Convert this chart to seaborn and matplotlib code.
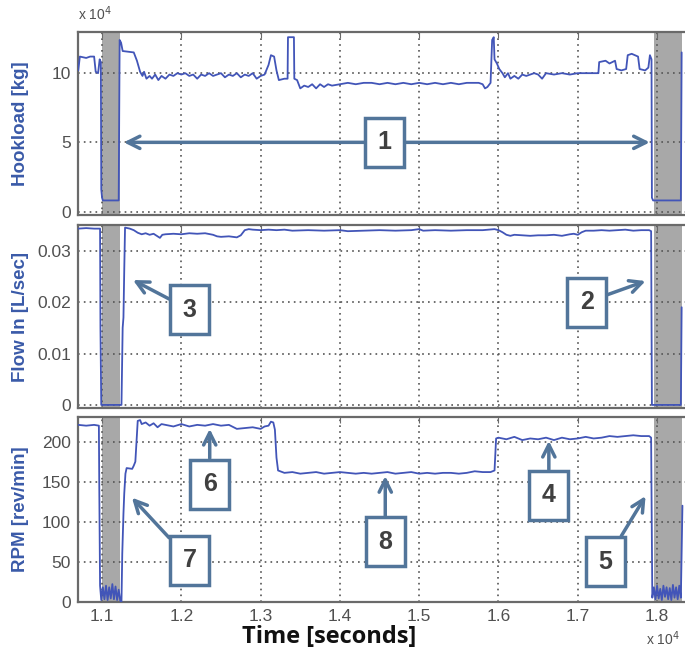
import matplotlib
matplotlib.use("Agg")
import matplotlib.pyplot as plt
import seaborn as sns
import pandas as pd

# time in units of 1e4 s
hook_t = [1.070, 1.072, 1.080, 1.085, 1.090, 1.092, 1.095, 1.097, 1.0985, 1.099, 1.100, 1.101,
          1.121, 1.1222, 1.124, 1.126, 1.140, 1.144, 1.148, 1.151, 1.153, 1.156, 1.160, 1.163,
          1.167, 1.171, 1.175, 1.180, 1.185, 1.190, 1.195, 1.200, 1.205, 1.210, 1.215, 1.220,
          1.225, 1.230, 1.235, 1.240, 1.245, 1.250, 1.255, 1.260, 1.265, 1.270, 1.275, 1.280,
          1.285, 1.290, 1.295, 1.300, 1.305, 1.310, 1.313, 1.317, 1.320, 1.323, 1.330, 1.334,
          1.3345, 1.342, 1.3425, 1.346, 1.350, 1.355, 1.360, 1.365, 1.370, 1.375, 1.380, 1.385,
          1.390, 1.400, 1.410, 1.420, 1.430, 1.440, 1.450, 1.460, 1.470, 1.480, 1.490, 1.500,
          1.510, 1.520, 1.530, 1.540, 1.550, 1.560, 1.570, 1.575, 1.580, 1.583, 1.586, 1.590,
          1.592, 1.594, 1.595, 1.598, 1.601, 1.605, 1.608, 1.612, 1.615, 1.620, 1.625, 1.630,
          1.635, 1.640, 1.645, 1.650, 1.655, 1.660, 1.670, 1.680, 1.690, 1.700, 1.710, 1.720,
          1.726, 1.727, 1.735, 1.740, 1.747, 1.749, 1.755, 1.761, 1.763, 1.768, 1.776, 1.778,
          1.785, 1.789, 1.791, 1.793, 1.7935, 1.795, 1.830, 1.831]
hook_v = [10.2, 11.2, 11.1, 11.2, 11.2, 10.1, 10.0, 11.0, 10.8, 1.6, 1.0, 0.8,
          0.8, 12.4, 12.2, 11.6, 11.5, 10.9, 10.1, 9.8, 10.1, 9.6, 9.8, 9.6,
          9.9, 9.5, 9.8, 9.6, 9.9, 9.8, 10.0, 9.9, 10.0, 9.8, 9.9, 9.6,
          9.9, 9.8, 10.0, 9.8, 9.9, 10.0, 9.7, 9.9, 9.8, 10.0, 9.7, 9.9,
          9.8, 10.0, 9.6, 9.8, 9.9, 10.6, 11.3, 11.2, 10.2, 9.5, 9.6, 9.6,
          12.6, 12.6, 9.6, 9.5, 8.9, 9.1, 9.0, 9.2, 8.9, 9.2, 9.0, 9.2,
          9.1, 9.2, 9.3, 9.2, 9.3, 9.3, 9.2, 9.3, 9.2, 9.3, 9.2, 9.3,
          9.2, 9.3, 9.2, 9.3, 9.2, 9.3, 9.3, 9.3, 9.2, 8.9, 9.0, 9.3,
          12.4, 12.6, 11.0, 10.7, 10.3, 10.0, 9.7, 10.0, 9.6, 9.8, 9.6, 9.9,
          9.8, 9.9, 10.0, 9.9, 9.6, 10.0, 9.9, 10.0, 9.9, 10.0, 10.0, 10.0,
          10.0, 10.8, 10.9, 10.7, 10.9, 10.3, 10.2, 10.3, 11.3, 11.4, 11.2, 10.3,
          10.2, 10.4, 11.3, 11.0, 1.0, 0.8, 0.8, 11.5]

flow_t = [1.070, 1.080, 1.090, 1.0975, 1.098, 1.099, 1.1245, 1.126, 1.127, 1.128, 1.129, 1.135,
          1.140, 1.145, 1.150, 1.155, 1.160, 1.165, 1.170, 1.173, 1.176, 1.180, 1.190, 1.200,
          1.210, 1.220, 1.230, 1.240, 1.245, 1.250, 1.260, 1.270, 1.275, 1.280, 1.285, 1.290,
          1.300, 1.310, 1.320, 1.330, 1.340, 1.360, 1.380, 1.400, 1.410, 1.430, 1.450, 1.470,
          1.490, 1.500, 1.505, 1.520, 1.540, 1.560, 1.580, 1.595, 1.600, 1.605, 1.610, 1.615,
          1.620, 1.630, 1.640, 1.650, 1.660, 1.670, 1.680, 1.690, 1.695, 1.700, 1.705, 1.710,
          1.720, 1.730, 1.740, 1.750, 1.760, 1.770, 1.780, 1.790, 1.7925, 1.7935, 1.830, 1.831]
flow_v = [0.0343, 0.0344, 0.0343, 0.0343, 0.0150, 0.0, 0.0, 0.0150, 0.0170, 0.0262, 0.0345, 0.0343,
          0.0340, 0.0335, 0.0332, 0.0334, 0.0331, 0.0333, 0.0328, 0.0325, 0.0331, 0.0332, 0.0333, 0.0332,
          0.0334, 0.0333, 0.0334, 0.0331, 0.0328, 0.0327, 0.0328, 0.0326, 0.0330, 0.0340, 0.0342, 0.0341,
          0.0340, 0.0341, 0.0340, 0.0341, 0.0339, 0.0340, 0.0339, 0.0340, 0.0338, 0.0339, 0.0340, 0.0339,
          0.0340, 0.0342, 0.0339, 0.0340, 0.0339, 0.0340, 0.0340, 0.0342, 0.0340, 0.0336, 0.0331, 0.0329,
          0.0331, 0.0330, 0.0329, 0.0330, 0.0330, 0.0331, 0.0329, 0.0332, 0.0333, 0.0331, 0.0336, 0.0339,
          0.0339, 0.0340, 0.0339, 0.0340, 0.0341, 0.0339, 0.0340, 0.0340, 0.0338, 0.0, 0.0, 0.0190]

rpm_t = [1.070, 1.080, 1.090, 1.096, 1.0965, 1.0975, 1.099, 1.101, 1.103, 1.105, 1.107, 1.109,
         1.111, 1.113, 1.115, 1.117, 1.119, 1.121, 1.123, 1.1245, 1.1255, 1.127, 1.128, 1.1295,
         1.131, 1.138, 1.140, 1.142, 1.1435, 1.145, 1.148, 1.150, 1.155, 1.160, 1.165, 1.170,
         1.175, 1.180, 1.190, 1.200, 1.210, 1.220, 1.230, 1.240, 1.250, 1.260, 1.270, 1.280,
         1.290, 1.300, 1.305, 1.310, 1.313, 1.316, 1.318, 1.320, 1.322, 1.330, 1.340, 1.350,
         1.360, 1.370, 1.380, 1.390, 1.400, 1.410, 1.420, 1.430, 1.440, 1.450, 1.460, 1.470,
         1.480, 1.490, 1.500, 1.510, 1.520, 1.530, 1.540, 1.550, 1.560, 1.570, 1.580, 1.590,
         1.595, 1.597, 1.600, 1.610, 1.620, 1.630, 1.640, 1.650, 1.660, 1.670, 1.680, 1.690,
         1.700, 1.710, 1.720, 1.730, 1.740, 1.750, 1.760, 1.770, 1.780, 1.790, 1.7925, 1.7935,
         1.794, 1.796, 1.798, 1.800, 1.802, 1.804, 1.806, 1.808, 1.810, 1.812, 1.814, 1.816,
         1.818, 1.820, 1.822, 1.824, 1.826, 1.828, 1.830, 1.832]
rpm_v = [221, 220, 221, 220, 145, 20, 2, 18, 3, 20, 2, 18,
         4, 22, 3, 19, 2, 15, 1, 0, 60, 110, 135, 160,
         167, 166, 170, 175, 200, 226, 227, 222, 224, 220, 223, 218,
         222, 221, 219, 222, 219, 221, 220, 222, 220, 221, 216, 217,
         218, 216, 219, 220, 225, 224, 215, 180, 164, 161, 162, 160,
         161, 162, 160, 161, 162, 161, 160, 161, 160, 161, 162, 160,
         161, 162, 160, 161, 160, 161, 161, 160, 161, 163, 162, 162,
         164, 204, 205, 203, 206, 202, 204, 203, 205, 202, 205, 203,
         204, 206, 204, 205, 207, 206, 207, 208, 207, 207, 205, 60,
         5, 18, 3, 20, 4, 16, 2, 20, 6, 18, 3, 17,
         2, 21, 5, 18, 3, 20, 5, 120]

# shaded intervals (start, end)
bands = [(1.0995, 1.1225), (1.7965, 1.831)]

x_ticks = [1.1, 1.2, 1.3, 1.4, 1.5, 1.6, 1.7, 1.8]
y_labels = ["Hookload [kg]", "Flow In [L/sec]", "RPM [rev/min]"]
y_ticks = [[0, 5, 10], [0, 0.01, 0.02, 0.03], [0, 50, 100, 150, 200]]
y_ticklabels = [["0", "5", "10"], ["0", "0.01", "0.02", "0.03"], ["0", "50", "100", "150", "200"]]

# callouts: (panel, label, text position, arrow head)
callouts = [
    (1, "3", (1.2107, 0.0185), (1.139, 0.0243)),
    (1, "2", (1.7113, 0.0200), (1.7855, 0.0241)),
    (2, "6", (1.2358, 147), (1.2358, 216)),
    (2, "7", (1.2107, 52), (1.1377, 130)),
    (2, "8", (1.4572, 75), (1.4572, 157)),
    (2, "4", (1.6635, 133), (1.6635, 201)),
    (2, "5", (1.7352, 50), (1.7855, 132)),
]

sns.set_style("white")
plt.rcParams["font.family"] = ["Liberation Sans", "DejaVu Sans"]

LINE = "#4255b8"
LABEL = "#3a5aa8"
ANN = "#52759a"
TICK = "#505050"

fig = plt.figure(figsize=(6.85, 6.57), dpi=100)
rects = [[0.1139, 0.6728, 0.89, 0.279],
         [0.1139, 0.379, 0.89, 0.2785],
         [0.1139, 0.0833, 0.89, 0.2825]]
ylims = [(-0.25, 13.0), (-0.0006, 0.035), (-0.75, 231.25)]

frames = [pd.DataFrame({"t": hook_t, "v": hook_v}),
          pd.DataFrame({"t": flow_t, "v": flow_v}),
          pd.DataFrame({"t": rpm_t, "v": rpm_v})]

axes = []
for i, df in enumerate(frames):
    ax = fig.add_axes(rects[i])
    for b0, b1 in bands:
        ax.axvspan(b0, b1, color="#a8a8a8", lw=0, zorder=1)
    sns.lineplot(data=df, x="t", y="v", ax=ax, color=LINE, lw=1.3,
                 estimator=None, sort=False, zorder=3)
    ax.set_xlim(1.0697, 1.8386)
    ax.set_ylim(*ylims[i])
    ax.set_xticks(x_ticks)
    ax.set_yticks(y_ticks[i])
    ax.set_yticklabels(y_ticklabels[i])
    ax.grid(True, linestyle=(0, (1, 2.5)), color="#555555", lw=1.2, zorder=2)
    ax.set_axisbelow("line")
    for sp in ax.spines.values():
        sp.set_color("#6a6a6a")
        sp.set_linewidth(1.6)
    ax.tick_params(direction="in", length=4, color="#6a6a6a", labelsize=12.5,
                   labelcolor=TICK, pad=5, top=True)
    if i < 2:
        ax.set_xticklabels([])
    ax.set_xlabel("")
    ax.set_ylabel(y_labels[i], color=LABEL, fontsize=13.5, fontweight="bold")
    ax.yaxis.set_label_coords(-0.080, 0.5)
    axes.append(ax)

# callout 1: double arrow across the hookload panel
axes[0].annotate("", xy=(1.1239, 5), xytext=(1.7943, 5),
                 arrowprops=dict(arrowstyle="<->", color=ANN, lw=2.5, mutation_scale=22),
                 zorder=5)
axes[0].text(1.456, 5, "1", ha="center", va="center", fontsize=18, fontweight="bold",
             color="#404040", zorder=6,
             bbox=dict(boxstyle="square,pad=0.5", fc="white", ec=ANN, lw=2.5))

for panel, lab, xyt, xyh in callouts:
    axes[panel].annotate(lab, xy=xyh, xytext=xyt, ha="center", va="center",
                         fontsize=18, fontweight="bold", color="#404040", zorder=6,
                         bbox=dict(boxstyle="square,pad=0.5", fc="white", ec=ANN, lw=2.5),
                         arrowprops=dict(arrowstyle="->", color=ANN, lw=2.5,
                                         mutation_scale=22, shrinkA=0, shrinkB=0))

fig.text(0.114, 0.965, r"x 10$^4$", fontsize=10, color=TICK, ha="left", va="bottom")
fig.text(0.993, 0.028, r"x 10$^4$", fontsize=10, color=TICK, ha="right", va="center")
fig.text(0.48, 0.03, "Time [seconds]", fontsize=17, fontweight="bold", color="#111111",
         ha="center", va="center", family=["Open Sans", "DejaVu Sans"])

fig.savefig("out.png", dpi=100)
